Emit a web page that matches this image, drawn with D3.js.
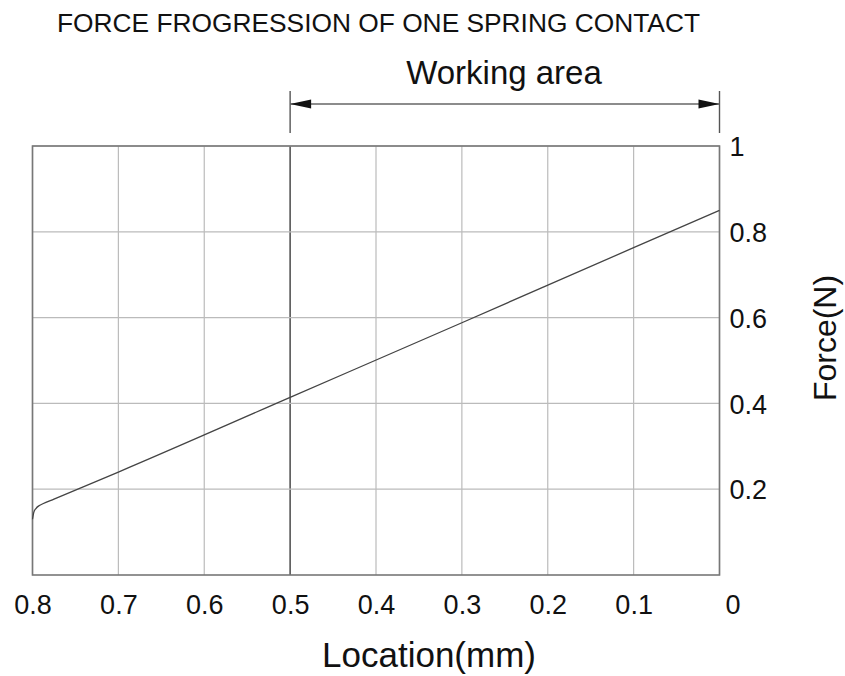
<!DOCTYPE html>
<html><head><meta charset="utf-8">
<script src="https://cdn.jsdelivr.net/npm/d3@7"></script>
<style>body{margin:0;background:#fff}svg{display:block}text{font-family:"Liberation Sans",Arial,sans-serif;fill:#111}</style>
</head><body><svg id="c" width="845" height="676"></svg>
<script>
const xTicks = [0.8, 0.7, 0.6, 0.5, 0.4, 0.3, 0.2, 0.1, 0];
const yTicks = [0.2, 0.4, 0.6, 0.8, 1];
const locations = [0.8, 0.7985, 0.796, 0.792, 0.788, 0.775, 0.7, 0.5, 0.3, 0.1, 0];
const forces =    [0.13, 0.146, 0.155, 0.162, 0.166, 0.177, 0.24, 0.414, 0.588, 0.763, 0.85];
const workingArea = [0.5, 0];

const svg = d3.select("#c");
const m = {l: 32.5, r: 719.5, t: 146, b: 575};
const x = d3.scaleLinear().domain([0.8, 0]).range([m.l, m.r]);
const y = d3.scaleLinear().domain([0, 1]).range([m.b, m.t]);
const FF = '"Liberation Sans",Arial,sans-serif';

// grid
const g = svg.append("g");
g.selectAll(".vg").data(xTicks).join("line")
  .attr("x1", d => x(d)).attr("x2", d => x(d)).attr("y1", m.t).attr("y2", m.b)
  .attr("stroke", d => d === 0.5 ? "#555" : "#bbb").attr("stroke-width", d => d === 0.5 ? 1.6 : 1.2);
g.selectAll(".hg").data(yTicks).join("line")
  .attr("x1", m.l).attr("x2", m.r).attr("y1", d => y(d)).attr("y2", d => y(d))
  .attr("stroke", "#bbb").attr("stroke-width", 1.2);
g.append("rect").attr("x", m.l).attr("y", m.t).attr("width", m.r - m.l).attr("height", m.b - m.t)
  .attr("fill", "none").attr("stroke", "#777").attr("stroke-width", 1.6);

// axes labels via d3 axes
const xAxis = d3.axisBottom(x).tickValues(xTicks).tickSize(0).tickPadding(0).tickFormat(d => d === 0 ? "0" : d3.format(".1f")(d));
const xa = svg.append("g").attr("transform", `translate(0,${m.b})`).call(xAxis).attr("font-size", null).attr("font-family", null);
xa.select(".domain").remove();
xa.selectAll("text").attr("font-size", 27).attr("dy", 0).attr("y", 39).style("font-family", FF).attr("fill", "#111");
xa.selectAll(".tick").filter(d => d === 0).select("text").attr("dx", 13);

const yAxis = d3.axisRight(y).tickValues(yTicks).tickSize(0).tickPadding(0).tickFormat(d => d === 1 ? "1" : d3.format(".1f")(d));
const ya = svg.append("g").attr("transform", `translate(${m.r},0)`).call(yAxis).attr("font-size", null).attr("font-family", null);
ya.select(".domain").remove();
ya.selectAll("text").attr("font-size", 27).attr("x", 10).attr("dy", "0.36em").style("font-family", FF).attr("fill", "#111");

// data line
const line = d3.line().x((d, i) => x(locations[i])).y((d, i) => y(forces[i])).curve(d3.curveMonotoneX);
svg.append("path").datum(locations).attr("d", line).attr("fill", "none").attr("stroke", "#444").attr("stroke-width", 1.3).attr("stroke-linejoin", "round");

// working area
const wx0 = x(workingArea[0]), wx1 = x(workingArea[1]);
const ay = 104;
svg.append("line").attr("x1", wx0).attr("x2", wx0).attr("y1", 91).attr("y2", 133).attr("stroke", "#555").attr("stroke-width", 1.4);
svg.append("line").attr("x1", wx1).attr("x2", wx1).attr("y1", 91).attr("y2", 133).attr("stroke", "#555").attr("stroke-width", 1.4);
svg.append("line").attr("x1", wx0).attr("x2", wx1).attr("y1", ay).attr("y2", ay).attr("stroke", "#666").attr("stroke-width", 1.6);
svg.append("path").attr("d", `M${wx0},${ay}L${wx0+21},${ay-4.5}L${wx0+21},${ay+4.5}Z`).attr("fill", "#111");
svg.append("path").attr("d", `M${wx1},${ay}L${wx1-21},${ay-4.5}L${wx1-21},${ay+4.5}Z`).attr("fill", "#111");

// texts
svg.append("text").attr("x", 378.5).attr("y", 32).attr("text-anchor", "middle").attr("font-size", 26)
  .attr("textLength", 643).attr("lengthAdjust", "spacingAndGlyphs")
  .text("FORCE FROGRESSION OF ONE SPRING CONTACT");
svg.append("text").attr("x", 504).attr("y", 84).attr("text-anchor", "middle").attr("font-size", 33).text("Working area");
svg.append("text").attr("x", 429).attr("y", 667).attr("text-anchor", "middle").attr("font-size", 35).text("Location(mm)");
svg.append("text").attr("transform", "translate(836,338) rotate(-90)").attr("text-anchor", "middle").attr("font-size", 32).text("Force(N)");
</script></body></html>
